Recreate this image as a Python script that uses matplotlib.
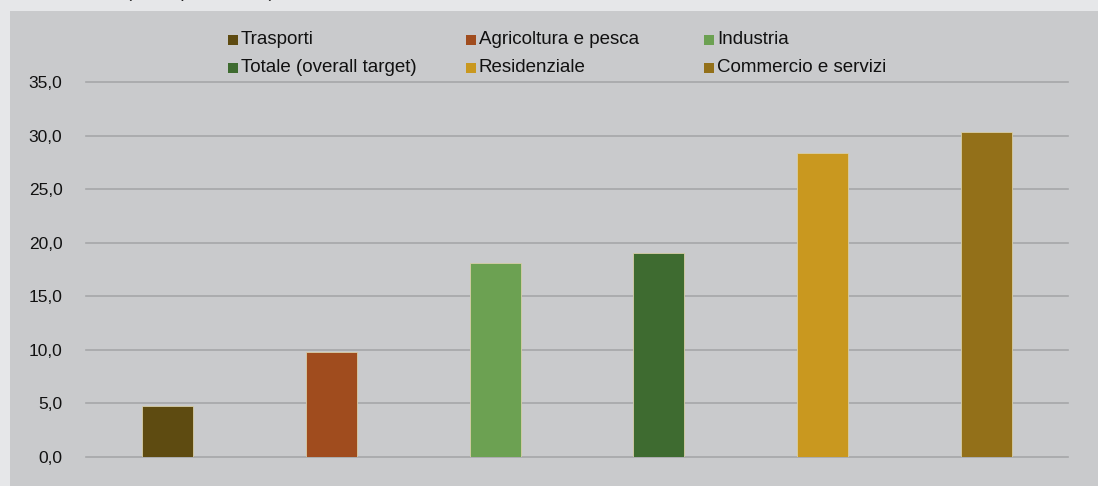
import numpy as np
import matplotlib.pyplot as plt
from matplotlib.patches import Rectangle

plt.rcParams["font.family"] = ["Liberation Sans", "DejaVu Sans"]

categories = ["Trasporti", "Agricoltura e pesca", "Industria",
              "Totale (overall target)", "Residenziale", "Commercio e servizi"]
values = [4.8, 9.8, 18.1, 19.0, 28.4, 30.3]
colors = ["#5e4b11", "#a04c1e", "#6ca152", "#3e6b30", "#c9981f", "#937019"]
yticks = [0, 5, 10, 15, 20, 25, 30, 35]
ytick_labels = ["0,0", "5,0", "10,0", "15,0", "20,0", "25,0", "30,0", "35,0"]

W, H = 1098, 486
fig = plt.figure(figsize=(W / 100, H / 100), dpi=100)
fig.patch.set_facecolor("#e6e7e9")

# inner grey panel (behind the axes)
fig.patches.append(Rectangle((10 / W, 0), 1, (H - 11) / H, transform=fig.transFigure,
                             facecolor="#c9cacc", edgecolor="none", zorder=-5))

# title sits above the frame, only its descenders show
fig.text(200 / W, 1 + 3 / H, "(valori percentuali)", ha="center", va="baseline",
         fontsize=13, color="#222222")

ax = fig.add_axes([86 / W, 1 - 457 / H, (1068 - 86) / W, (457 - 82) / H])
ax.set_facecolor("none")

x = np.arange(len(categories))
ax.bar(x, values, width=0.31, color=colors, edgecolor="#d8cfa8", linewidth=0.6, zorder=3)

ax.set_xlim(-0.5, len(categories) - 0.5)
ax.set_ylim(0, 35)
ax.set_yticks(yticks)
ax.set_yticklabels(ytick_labels, fontsize=12.5, color="#111111")
ax.set_xticks([])
ax.tick_params(axis="y", length=0, pad=17)
ax.grid(axis="y", color="#a6a7a9", linewidth=1.2, zorder=1)
for gl in ax.get_ygridlines():
    gl.set_clip_on(False)
for s in ax.spines.values():
    s.set_visible(False)

# legend, 3 columns x 2 rows
col_x = [228, 466, 704]
row_y = [40, 68]
for i, (lab, c) in enumerate(zip(categories, colors)):
    cx = col_x[i % 3]
    cy = row_y[i // 3]
    fig.patches.append(Rectangle((cx / W, 1 - (cy + 5) / H), 10 / W, 10 / H,
                                 transform=fig.transFigure, facecolor=c,
                                 edgecolor="none", zorder=5))
    fig.text((cx + 13) / W, 1 - cy / H, lab, ha="left", va="center",
             fontsize=13.5, color="#111111")

fig.savefig("out.png", dpi=100, facecolor=fig.get_facecolor())
